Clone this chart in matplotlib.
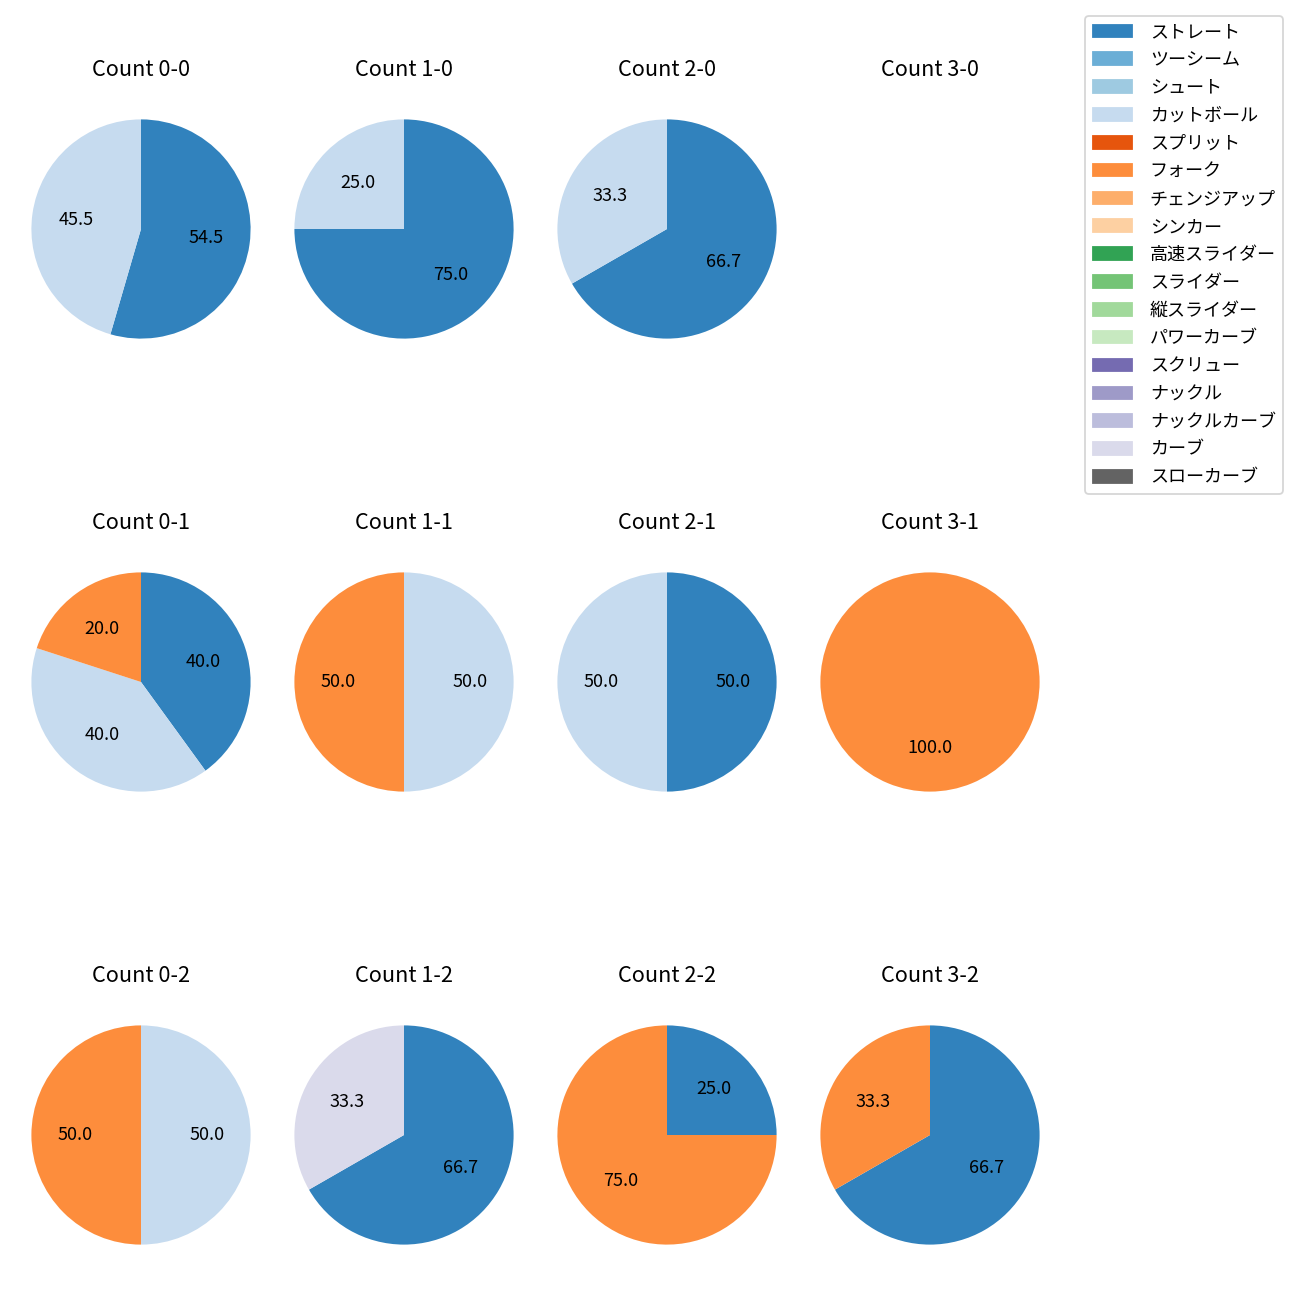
import matplotlib
matplotlib.use('Agg')
import matplotlib.pyplot as plt
from matplotlib.patches import Patch

plt.rcParams['font.family'] = ['Noto Sans CJK JP', 'DejaVu Sans']

# pitch types in legend order
pitch_types = ['ストレート', 'ツーシーム', 'シュート', 'カットボール', 'スプリット',
               'フォーク', 'チェンジアップ', 'シンカー', '高速スライダー', 'スライダー',
               '縦スライダー', 'パワーカーブ', 'スクリュー', 'ナックル', 'ナックルカーブ',
               'カーブ', 'スローカーブ']

balls = [0, 1, 2, 3]
strikes = [0, 1, 2]

# share (%) of each pitch type per count (balls-strikes)
count_0_0 = {'ストレート': 54.5, 'カットボール': 45.5}
count_1_0 = {'ストレート': 75.0, 'カットボール': 25.0}
count_2_0 = {'ストレート': 66.7, 'カットボール': 33.3}
count_3_0 = {}
count_0_1 = {'ストレート': 40.0, 'カットボール': 40.0, 'フォーク': 20.0}
count_1_1 = {'カットボール': 50.0, 'フォーク': 50.0}
count_2_1 = {'ストレート': 50.0, 'カットボール': 50.0}
count_3_1 = {'フォーク': 100.0}
count_0_2 = {'カットボール': 50.0, 'フォーク': 50.0}
count_1_2 = {'ストレート': 66.7, 'カーブ': 33.3}
count_2_2 = {'ストレート': 25.0, 'フォーク': 75.0}
count_3_2 = {'ストレート': 66.7, 'フォーク': 33.3}

data = {
    (0, 0): count_0_0, (1, 0): count_1_0, (2, 0): count_2_0, (3, 0): count_3_0,
    (0, 1): count_0_1, (1, 1): count_1_1, (2, 1): count_2_1, (3, 1): count_3_1,
    (0, 2): count_0_2, (1, 2): count_1_2, (2, 2): count_2_2, (3, 2): count_3_2,
}

cmap = plt.get_cmap('tab20c')
colors = {p: cmap(i) for i, p in enumerate(pitch_types)}

W, H = 1300, 1300
fig = plt.figure(figsize=(10, 10), dpi=130)

box = 274  # axes size in px
for s in strikes:
    for b in balls:
        cx = 141 + 263 * b
        cy = 229 + 453 * s
        ax = fig.add_axes([(cx - box / 2) / W, 1 - (cy + box / 2) / H, box / W, box / H])
        vals = data[(b, s)]
        ax.set_title(f'Count {b}-{s}', fontsize=12, pad=9)
        if not vals:
            ax.set_axis_off()
            continue
        names = [p for p in pitch_types if p in vals]
        ax.pie([vals[p] for p in names], colors=[colors[p] for p in names],
               startangle=90, counterclock=False, autopct='%.1f',
               textprops={'fontsize': 10})

handles = [Patch(color=colors[p]) for p in pitch_types]
fig.legend(handles, pitch_types, loc='upper right',
           bbox_to_anchor=(1283 / W, 1 - 16 / H), borderaxespad=0,
           fontsize=10, handlelength=2.17, handletextpad=1.0, labelspacing=0.545)

fig.savefig('out.png', dpi=130)
